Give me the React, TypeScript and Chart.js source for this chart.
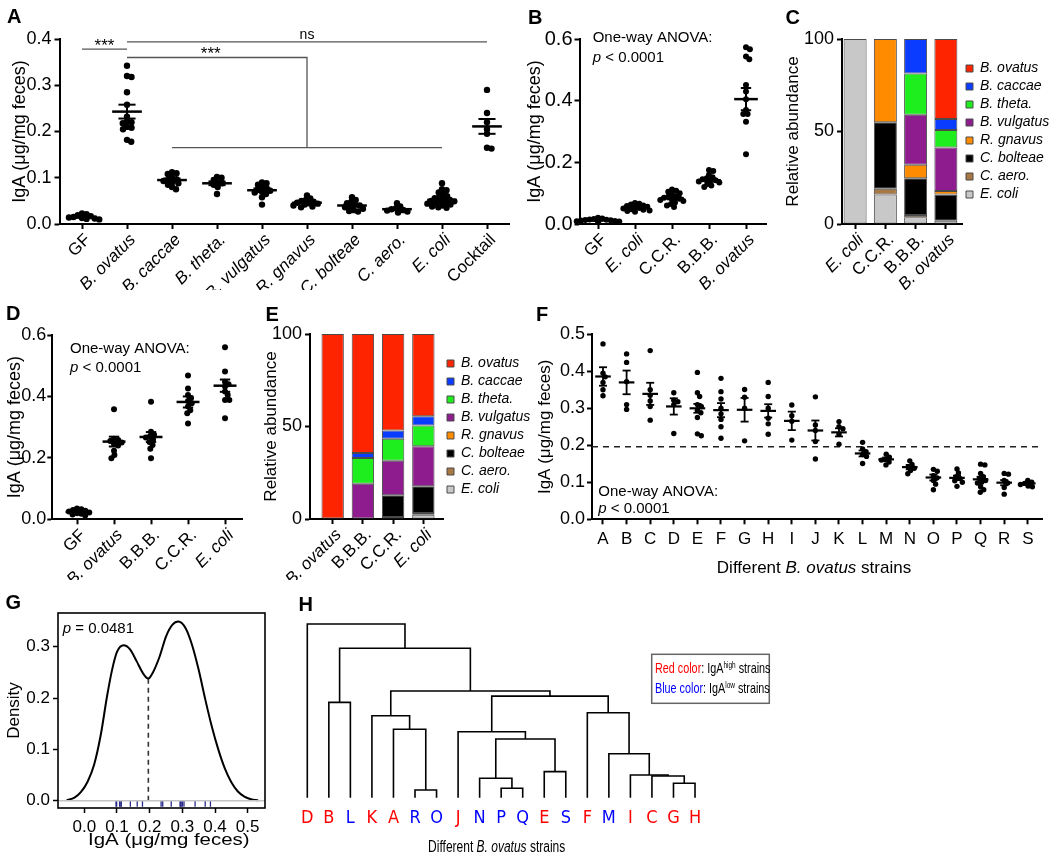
import React, { useEffect, useRef } from 'react';
import { Chart, registerables } from 'chart.js';

Chart.register(...registerables);

const FONT = '"Liberation Sans", Arial, Helvetica, sans-serif';
const NARROW = '"Liberation Sans Narrow", "DejaVu Sans Condensed", "Liberation Sans", Arial, sans-serif';
Chart.defaults.font.family = FONT;
Chart.defaults.color = '#000';

/* ================= Panel A ================= */
const aCategories = ['GF', 'B. ovatus', 'B. caccae', 'B. theta.', 'B. vulgatus', 'R. gnavus', 'C. bolteae', 'C. aero.', 'E. coli', 'Cocktail'];
const aItalic = [false, true, true, true, true, true, true, true, true, false];
const aGF = [0.023, 0.021, 0.019, 0.017, 0.015, 0.014, 0.013, 0.011, 0.01, 0.012];
const aBOvatus = [0.342, 0.32, 0.318, 0.285, 0.258, 0.232, 0.222, 0.22, 0.218, 0.21, 0.208, 0.205, 0.182, 0.178];
const aBCaccae = [0.112, 0.11, 0.108, 0.1, 0.097, 0.095, 0.093, 0.09, 0.088, 0.085, 0.08, 0.075];
const aBTheta = [0.102, 0.1, 0.095, 0.09, 0.088, 0.085, 0.08, 0.065];
const aBVulgatus = [0.09, 0.088, 0.085, 0.08, 0.078, 0.075, 0.072, 0.07, 0.068, 0.065, 0.058, 0.042];
const aRGnavus = [0.062, 0.055, 0.052, 0.05, 0.048, 0.046, 0.045, 0.044, 0.042, 0.04, 0.038, 0.036];
const aCBolteae = [0.058, 0.052, 0.048, 0.045, 0.042, 0.04, 0.038, 0.036, 0.033, 0.03, 0.028, 0.027];
const aCAero = [0.045, 0.038, 0.034, 0.032, 0.03, 0.029, 0.027, 0.025];
const aEColi = [0.088, 0.075, 0.073, 0.068, 0.064, 0.06, 0.058, 0.056, 0.054, 0.052, 0.05, 0.049, 0.048, 0.046, 0.045, 0.044, 0.042, 0.04, 0.038, 0.036, 0.035];
const aCocktail = [0.29, 0.24, 0.22, 0.205, 0.195, 0.165, 0.163];
const aMeans = [0.015, 0.243, 0.095, 0.088, 0.073, 0.046, 0.04, 0.032, 0.052, 0.211];
const aSems = [0.0015, 0.015, 0.0035, 0.004, 0.004, 0.002, 0.0025, 0.002, 0.003, 0.016];
const aBracketGF = [{ x: 0, y: 0.378 }, { x: 1, y: 0.378 }];
const aBracketNs = [{ x: 1, y: 0.394 }, { x: 9, y: 0.394 }];
const aBracketGroup = [{ x: 1, y: 0.36 }, { x: 5, y: 0.36 }, { x: 5, y: 0.165 }];
const aBracketBase = [{ x: 2, y: 0.165 }, { x: 8, y: 0.165 }];
const aBracketLabels = [
  { text: '***', x: 0.5, y: 0.378 },
  { text: 'ns', x: 5, y: 0.394 },
  { text: '***', x: 2.86, y: 0.36 },
];

/* ================= Panel B ================= */
const bCategories = ['GF', 'E. coli', 'C.C.R.', 'B.B.B.', 'B. ovatus'];
const bItalic = [false, true, false, false, true];
const bGF = [0.02, 0.018, 0.016, 0.015, 0.014, 0.013, 0.012, 0.011, 0.01, 0.009, 0.008, 0.006];
const bEColi = [0.068, 0.066, 0.063, 0.06, 0.058, 0.056, 0.054, 0.052, 0.05, 0.048, 0.046, 0.044, 0.042, 0.04];
const bCCR = [0.112, 0.108, 0.105, 0.1, 0.095, 0.09, 0.088, 0.085, 0.082, 0.08, 0.078, 0.075, 0.07, 0.065, 0.06, 0.055];
const bBBB = [0.175, 0.172, 0.16, 0.152, 0.148, 0.145, 0.142, 0.14, 0.138, 0.135, 0.13, 0.125, 0.12];
const bBOvatus = [0.573, 0.567, 0.543, 0.534, 0.451, 0.43, 0.405, 0.37, 0.357, 0.357, 0.332, 0.226];
const bMeans = [0.012, 0.053, 0.084, 0.142, 0.405];
const bSems = [0.0012, 0.002, 0.004, 0.004, 0.036];

/* ================= Panels C & E (stacked composition) ================= */
const stackSpecies = ['E. coli', 'C. aero.', 'C. bolteae', 'R. gnavus', 'B. vulgatus', 'B. theta.', 'B. caccae', 'B. ovatus'];
const stackColors = ['#C8C8C8', '#A87844', '#000000', '#FF8C00', '#8E1C8E', '#1EEE1E', '#0A3CFF', '#FF2400'];

const cCategories = ['E. coli', 'C.C.R.', 'B.B.B.', 'B. ovatus'];
const cItalic = [true, false, false, true];
const cEColi = [100, 16, 3.6, 1.8];
const cCAero = [0, 3, 1.3, 0];
const cCBolteae = [0, 36, 19.8, 14.2];
const cRGnavus = [0, 45, 7.3, 1.8];
const cBVulgatus = [0, 0, 27, 23.6];
const cBTheta = [0, 0, 22.4, 9.4];
const cBCaccae = [0, 0, 18.6, 6];
const cBOvatus = [0, 0, 0, 43.2];

const eCategories = ['B. ovatus', 'B.B.B.', 'C.C.R.', 'E. coli'];
const eItalic = [true, false, false, true];
const eEColi = [0, 0, 0, 2.3];
const eCAero = [0, 0, 1.1, 0.9];
const eCBolteae = [0, 0, 11.7, 14.5];
const eRGnavus = [0, 0, 0, 0];
const eBVulgatus = [0, 19.1, 18.7, 21.6];
const eBTheta = [0, 13.9, 11.9, 11.3];
const eBCaccae = [0, 2.7, 4.5, 4.9];
const eBOvatus = [100, 64.3, 52.1, 44.5];

/* ================= Panel D ================= */
const dCategories = ['GF', 'B. ovatus', 'B.B.B.', 'C.C.R.', 'E. coli'];
const dItalic = [false, true, false, false, true];
const dGF = [0.035, 0.033, 0.03, 0.028, 0.025, 0.022, 0.02, 0.018, 0.016, 0.012];
const dBOvatus = [0.358, 0.262, 0.258, 0.255, 0.25, 0.245, 0.24, 0.223, 0.209, 0.199];
const dBBB = [0.383, 0.285, 0.275, 0.27, 0.266, 0.26, 0.252, 0.242, 0.23, 0.199];
const dCCR = [0.468, 0.426, 0.405, 0.395, 0.385, 0.378, 0.367, 0.355, 0.345, 0.312];
const dEColi = [0.56, 0.481, 0.448, 0.44, 0.432, 0.416, 0.405, 0.388, 0.388, 0.329];
const dMeans = [0.024, 0.253, 0.268, 0.382, 0.435];
const dSems = [0.002, 0.016, 0.016, 0.018, 0.02];

/* ================= Panel F ================= */
const fStrains = ['A', 'B', 'C', 'D', 'E', 'F', 'G', 'H', 'I', 'J', 'K', 'L', 'M', 'N', 'O', 'P', 'Q', 'R', 'S'];
const fA = [0.474, 0.395, 0.385, 0.37, 0.35, 0.334];
const fB = [0.447, 0.424, 0.372, 0.31, 0.297];
const fC = [0.456, 0.35, 0.335, 0.32, 0.305, 0.268];
const fD = [0.342, 0.322, 0.318, 0.31, 0.232];
const fE = [0.397, 0.342, 0.332, 0.31, 0.305, 0.295, 0.288, 0.275, 0.231, 0.226];
const fF = [0.381, 0.345, 0.325, 0.3, 0.285, 0.27, 0.25, 0.219];
const fG = [0.351, 0.33, 0.3, 0.212];
const fH = [0.37, 0.332, 0.3, 0.273, 0.258, 0.23];
const fI = [0.309, 0.28, 0.265, 0.214];
const fJ = [0.331, 0.255, 0.24, 0.21, 0.163];
const fK = [0.264, 0.25, 0.245, 0.23, 0.203];
const fL = [0.208, 0.19, 0.183, 0.175, 0.17, 0.151];
const fM = [0.176, 0.168, 0.162, 0.16, 0.155, 0.147];
const fN = [0.158, 0.148, 0.142, 0.138, 0.132, 0.123];
const fO = [0.135, 0.13, 0.118, 0.112, 0.105, 0.095, 0.08];
const fP = [0.136, 0.125, 0.115, 0.11, 0.104, 0.1, 0.089];
const fQ = [0.149, 0.147, 0.124, 0.115, 0.11, 0.105, 0.1, 0.098, 0.088, 0.08, 0.073];
const fR = [0.124, 0.122, 0.105, 0.098, 0.086, 0.068];
const fS = [0.105, 0.1, 0.097, 0.094, 0.09, 0.088];
const fMeans = [0.386, 0.37, 0.339, 0.305, 0.3, 0.295, 0.296, 0.293, 0.266, 0.24, 0.235, 0.178, 0.162, 0.141, 0.113, 0.112, 0.108, 0.099, 0.097];
const fSems = [0.025, 0.032, 0.03, 0.022, 0.012, 0.019, 0.032, 0.018, 0.025, 0.027, 0.011, 0.008, 0.005, 0.006, 0.008, 0.006, 0.007, 0.007, 0.003];
const fThreshold = 0.196;

/* ================= Panel G ================= */
const gCurveX = [-0.054, -0.03, -0.01, 0.01, 0.03, 0.05, 0.07, 0.085, 0.1, 0.12, 0.14, 0.16, 0.18, 0.196, 0.21, 0.23, 0.25, 0.27, 0.288, 0.31, 0.33, 0.35, 0.37, 0.39, 0.41, 0.43, 0.45, 0.47, 0.49, 0.51, 0.532];
const gCurveY = [0.001, 0.006, 0.017, 0.037, 0.07, 0.127, 0.205, 0.255, 0.29, 0.303, 0.295, 0.272, 0.248, 0.238, 0.25, 0.28, 0.32, 0.343, 0.349, 0.336, 0.303, 0.255, 0.198, 0.145, 0.1, 0.063, 0.036, 0.018, 0.008, 0.003, 0.001];
const gRug = fMeans;
const gAntimode = 0.196;
const gAntimodeDensity = 0.238;
const gXTicks = [0, 0.1, 0.2, 0.3, 0.4, 0.5];
const gYTicks = [0, 0.1, 0.2, 0.3];
const gXMin = -0.0805;
const gXMax = 0.553;
const gYMin = -0.0142;
const gYMax = 0.3658;

/* ================= Panel H ================= */
const hLeaves = ['D', 'B', 'L', 'K', 'A', 'R', 'O', 'J', 'N', 'P', 'Q', 'E', 'S', 'F', 'M', 'I', 'C', 'G', 'H'];
const hHigh = [true, true, false, true, true, false, false, true, false, false, false, true, false, true, false, true, true, true, true];
const hMerges: [string, string, number][] = [
  ['R', 'O', 0.044], // m1
  ['P', 'Q', 0.054], // m2
  ['G', 'H', 0.083], // m3
  ['N', 'm2', 0.112], // m4
  ['C', 'm3', 0.125], // m5
  ['I', 'm5', 0.131], // m6
  ['E', 'S', 0.15], // m7
  ['M', 'm6', 0.253], // m8
  ['m4', 'm7', 0.338], // m9
  ['J', 'm9', 0.38], // m10
  ['A', 'm1', 0.394], // m11
  ['K', 'm11', 0.472], // m12
  ['F', 'm8', 0.489], // m13
  ['B', 'L', 0.549], // m14
  ['m10', 'm13', 0.585], // m15
  ['m12', 'm15', 0.614], // m16
  ['m14', 'm16', 0.86], // m17
  ['D', 'm17', 1.0], // m18
];

/* ================= helpers ================= */
type Box = { left: number; top: number; width: number; height: number };

function beeswarm(values: number[], center: number, pxPerX: number, pxPerY: number, diam: number) {
  const idx = values.map((_, i) => i).sort((a, b) => values[b] - values[a]);
  const placed: { x: number; y: number }[] = [];
  const out: { x: number; y: number }[] = new Array(values.length);
  idx.forEach((i) => {
    const y = values[i] * pxPerY;
    const cands = [0];
    placed.forEach((p) => {
      const dy = Math.abs(p.y - y);
      if (dy < diam) {
        const dx = Math.sqrt(diam * diam - dy * dy);
        cands.push(p.x + dx, p.x - dx);
      }
    });
    cands.sort((a, b) => Math.abs(a) - Math.abs(b));
    let best = 0;
    for (const c of cands) {
      if (placed.every((p) => (p.x - c) ** 2 + (p.y - y) ** 2 >= diam * diam - 0.01)) {
        best = c;
        break;
      }
    }
    placed.push({ x: best, y });
    out[i] = { x: center + best / pxPerX, y: values[i] };
  });
  return out;
}

type Part = { t: string; i?: boolean; color?: string; sup?: boolean };
function drawParts(ctx: any, parts: Part[], x: number, y: number, size: number, align = 'left', sx = 1) {
  ctx.save();
  ctx.textAlign = 'left';
  ctx.textBaseline = 'alphabetic';
  const fontOf = (p: Part) => `${p.i ? 'italic ' : ''}${p.sup ? Math.round(size * 0.62) : size}px ${FONT}`;
  let total = 0;
  parts.forEach((p) => {
    ctx.font = fontOf(p);
    total += ctx.measureText(p.t).width;
  });
  ctx.translate(x, y);
  ctx.scale(sx, 1);
  let cx = align === 'center' ? -total / 2 : 0;
  parts.forEach((p) => {
    ctx.font = fontOf(p);
    ctx.fillStyle = p.color || '#000';
    ctx.fillText(p.t, cx, p.sup ? -size * 0.38 : 0);
    cx += ctx.measureText(p.t).width;
  });
  ctx.restore();
}

function errorBars(means: number[], sems: number[], meanHalf: number, capHalf: number, meanW: number, barW: number) {
  return {
    id: 'errorBars',
    afterDatasetsDraw(chart: any) {
      const { ctx } = chart;
      const x = chart.scales.x;
      const y = chart.scales.y;
      ctx.save();
      ctx.strokeStyle = '#000';
      ctx.lineCap = 'butt';
      const seg = (x1: number, y1: number, x2: number, y2: number, w: number) => {
        ctx.lineWidth = w;
        ctx.beginPath();
        ctx.moveTo(x1, y1);
        ctx.lineTo(x2, y2);
        ctx.stroke();
      };
      means.forEach((m, i) => {
        const cx = x.getPixelForValue(i);
        const mh = x.getPixelForValue(i + meanHalf) - cx;
        const ch = x.getPixelForValue(i + capHalf) - cx;
        const ym = y.getPixelForValue(m);
        const yt = y.getPixelForValue(m + sems[i]);
        const yb = y.getPixelForValue(m - sems[i]);
        seg(cx, yt, cx, yb, barW);
        seg(cx - ch, yt, cx + ch, yt, barW);
        seg(cx - ch, yb, cx + ch, yb, barW);
        seg(cx - mh, ym, cx + mh, ym, meanW);
      });
      ctx.restore();
    },
  };
}

function yScale(o: any) {
  return {
    type: 'linear',
    min: o.min ?? 0,
    max: o.max,
    afterBuildTicks: (s: any) => {
      s.ticks = o.ticks.map((v: number) => ({ value: v }));
    },
    afterFit: (s: any) => {
      s.width = o.width;
    },
    border: { display: o.border !== false, color: '#000', width: 2 },
    grid: { display: true, drawOnChartArea: false, drawTicks: true, tickLength: 5, tickColor: '#000', tickWidth: o.tickWidth ?? 2 },
    ticks: { autoSkip: false, padding: o.pad ?? 3, color: '#000', font: { family: FONT, size: o.size }, callback: o.fmt },
    title: o.title
      ? { display: true, text: o.title, color: '#000', font: { family: FONT, size: o.titleSize }, padding: { top: o.titlePad, bottom: 0 } }
      : { display: false },
  };
}

function xScale(o: any) {
  const showGrid = o.grid !== false;
  return {
    type: 'linear',
    min: o.min,
    max: o.max,
    offset: false,
    afterBuildTicks: (s: any) => {
      s.ticks = o.ticks.map((v: number) => ({ value: v }));
    },
    afterFit: (s: any) => {
      s.height = o.height;
    },
    border: { display: o.border !== false, color: '#000', width: 2 },
    grid: { display: showGrid, offset: false, drawOnChartArea: false, drawTicks: showGrid, tickLength: 5, tickColor: '#000', tickWidth: o.tickWidth ?? 2 },
    ticks: {
      autoSkip: false,
      maxRotation: o.rot ?? 0,
      minRotation: o.rot ?? 0,
      labelOffset: o.labelOffset ?? 0,
      padding: o.pad ?? 3,
      color: o.color ?? '#000',
      font: o.font,
      callback: o.fmt,
    },
  };
}

function legendNaturalWidth() {
  const c = document.createElement('canvas').getContext('2d') as CanvasRenderingContext2D;
  c.font = `italic 14px ${FONT}`;
  const maxW = Math.max(...stackSpecies.map((s) => c.measureText(s).width));
  return 4 + 7 + 7 + maxW + 10 + 1;
}

function ChartCanvas({ box, build }: { box: Box; build: () => any }) {
  const ref = useRef<HTMLCanvasElement | null>(null);
  useEffect(() => {
    const chart = new Chart(ref.current as HTMLCanvasElement, build());
    return () => chart.destroy();
  }, []);
  return (
    <canvas
      ref={ref}
      width={box.width}
      height={box.height}
      style={{ position: 'absolute', left: box.left, top: box.top, width: box.width, height: box.height }}
    />
  );
}

function dotPlotConfig(s: any) {
  const areaR = s.area.l + (s.xMax - s.xMin) * s.spacing;
  const pxPerY = (s.area.b - s.area.t) / s.yMax;
  const pts: any[] = [];
  s.groups.forEach((g: number[], i: number) => pts.push(...beeswarm(g, i, s.spacing, pxPerY, s.dotR * 2 * s.pack)));
  return {
    type: 'scatter',
    data: {
      datasets: [
        { data: pts, pointRadius: s.dotR, pointBackgroundColor: '#000', backgroundColor: '#000', pointBorderWidth: 0, borderWidth: 0, clip: false },
        ...(s.extra || []),
      ],
    },
    options: {
      responsive: false,
      animation: false,
      events: [],
      layout: { autoPadding: false, padding: { left: 0, top: s.area.t - s.box.top, right: s.box.left + s.box.width - areaR, bottom: 0 } },
      plugins: { legend: { display: false }, tooltip: { enabled: false } },
      scales: {
        x: xScale({
          min: s.xMin,
          max: s.xMax,
          ticks: s.cats.map((_: string, i: number) => i),
          height: s.box.top + s.box.height - s.area.b,
          rot: s.rot,
          pad: s.xPad,
          labelOffset: s.rot ? 6 : 0,
          font: (c: any) => ({ family: FONT, size: s.catSize, style: s.italic && s.italic[c.index ?? 0] ? 'italic' : 'normal' }),
          fmt: (v: number) => s.cats[Math.round(v)],
        }),
        y: yScale({
          max: s.yMax,
          ticks: s.yTicks,
          width: s.area.l - s.box.left,
          size: s.yTickSize,
          title: 'IgA (μg/mg feces)',
          titleSize: s.titleSize,
          titlePad: s.titlePad,
          pad: s.yPad,
          fmt: (v: number) => Number(v).toFixed(1),
        }),
      },
    },
    plugins: [
      errorBars(s.means, s.sems, s.meanHalf, s.capHalf, s.meanW, s.barW),
      { id: 'notes', afterDraw: (chart: any) => s.notes && s.notes(chart) },
    ],
  };
}

function stackConfig(s: any) {
  const legendW = legendNaturalWidth();
  return {
    type: 'bar',
    data: {
      datasets: stackSpecies.map((label, k) => ({
        label,
        data: s.values[k].map((v: number, i: number) => ({ x: i, y: v > 0 ? v : null })),
        backgroundColor: stackColors[k],
        borderColor: '#4a4a4a',
        borderWidth: 1,
        borderSkipped: false,
        barPercentage: s.barPct,
        categoryPercentage: 1,
      })),
    },
    options: {
      responsive: false,
      animation: false,
      events: [],
      layout: {
        autoPadding: false,
        padding: { left: 0, top: s.area.t - s.box.top, right: s.box.left + s.box.width - s.area.r - legendW, bottom: 0 },
      },
      plugins: {
        legend: {
          display: true,
          position: 'right',
          align: 'center',
          fullSize: false,
          reverse: true,
          labels: { boxWidth: 7, boxHeight: 7, padding: 4, color: '#000', font: { family: FONT, size: 14, style: 'italic' } },
        },
        tooltip: { enabled: false },
      },
      scales: {
        x: {
          ...xScale({
            min: s.xMin,
            max: s.xMax,
            ticks: s.cats.map((_: string, i: number) => i),
            height: s.box.top + s.box.height - s.area.b,
            rot: 45,
            pad: 1,
            labelOffset: 6,
            font: (c: any) => ({ family: FONT, size: 17, style: s.italic[c.index ?? 0] ? 'italic' : 'normal' }),
            fmt: (v: number) => s.cats[Math.round(v)],
          }),
          stacked: true,
        },
        y: {
          ...yScale({
            max: 100,
            ticks: [0, 50, 100],
            width: s.area.l - s.box.left,
            size: 18,
            title: 'Relative abundance',
            titleSize: 17,
            titlePad: s.titleX - s.box.left - 10.2,
            pad: 3,
            fmt: (v: number) => String(v),
          }),
          stacked: true,
        },
      },
    },
  };
}

/* ================= panel builders ================= */
const aBox = { left: 0, top: 0, width: 520, height: 290 };
const bBox = { left: 505, top: 0, width: 275, height: 290 };
const cBox = { left: 600, top: 0, width: 500, height: 290 };
const dBox = { left: 0, top: 290, width: 260, height: 290 };
const eBox = { left: 100, top: 290, width: 450, height: 290 };
const fBox = { left: 520, top: 290, width: 530, height: 290 };
const gBox = { left: 0, top: 585, width: 290, height: 274 };
const hBox = { left: 290, top: 590, width: 760, height: 269 };

const bracketStyle = { showLine: true, borderColor: '#555', borderWidth: 1.3, pointRadius: 0, clip: false, tension: 0 };

function buildA() {
  return dotPlotConfig({
    box: aBox,
    area: { l: 59.5, t: 39, b: 224 },
    spacing: 45,
    xMin: -0.5,
    xMax: 9.5,
    yMax: 0.4,
    yTicks: [0, 0.1, 0.2, 0.3, 0.4],
    yTickSize: 18,
    yPad: 3,
    titleSize: 18,
    titlePad: 9.2,
    cats: aCategories,
    italic: aItalic,
    rot: 45,
    xPad: 1,
    catSize: 17,
    groups: [aGF, aBOvatus, aBCaccae, aBTheta, aBVulgatus, aRGnavus, aCBolteae, aCAero, aEColi, aCocktail],
    means: aMeans,
    sems: aSems,
    dotR: 3.2,
    pack: 0.72,
    meanHalf: 0.33,
    capHalf: 0.19,
    meanW: 2.5,
    barW: 2,
    extra: [
      { data: aBracketGF, ...bracketStyle },
      { data: aBracketNs, ...bracketStyle },
      { data: aBracketGroup, ...bracketStyle },
      { data: aBracketBase, ...bracketStyle },
    ],
    notes: (chart: any) => {
      const { ctx } = chart;
      const x = chart.scales.x;
      const y = chart.scales.y;
      ctx.save();
      ctx.fillStyle = '#000';
      ctx.textAlign = 'center';
      ctx.textBaseline = 'alphabetic';
      aBracketLabels.forEach((l) => {
        const stars = l.text === '***';
        ctx.font = `${stars ? 17 : 14}px ${FONT}`;
        ctx.fillText(l.text, x.getPixelForValue(l.x), y.getPixelForValue(l.y) + (stars ? 1.5 : -3));
      });
      ctx.restore();
    },
  });
}

function buildB() {
  return dotPlotConfig({
    box: bBox,
    area: { l: 579.5, t: 39, b: 224 },
    spacing: 37,
    xMin: -0.5,
    xMax: 4.55,
    yMax: 0.6,
    yTicks: [0, 0.2, 0.4, 0.6],
    yTickSize: 20,
    yPad: 2,
    titleSize: 18,
    titlePad: 19.2,
    cats: bCategories,
    italic: bItalic,
    rot: 45,
    xPad: 1,
    catSize: 17,
    groups: [bGF, bEColi, bCCR, bBBB, bBOvatus],
    means: bMeans,
    sems: bSems,
    dotR: 3,
    pack: 0.72,
    meanHalf: 0.32,
    capHalf: 0.14,
    meanW: 2.5,
    barW: 2,
    notes: (chart: any) => {
      const { ctx } = chart;
      drawParts(ctx, [{ t: 'One-way ANOVA:' }], 592.7 - bBox.left, 41.7 - bBox.top, 15);
      drawParts(ctx, [{ t: 'p', i: true }, { t: ' < 0.0001' }], 592.7 - bBox.left, 61.7 - bBox.top, 15);
    },
  });
}

function buildC() {
  return stackConfig({
    box: cBox,
    area: { l: 842, r: 961, t: 39, b: 224 },
    xMin: -0.433,
    xMax: 3.533,
    barPct: 0.76,
    titleX: 793,
    cats: cCategories,
    italic: cItalic,
    values: [cEColi, cCAero, cCBolteae, cRGnavus, cBVulgatus, cBTheta, cBCaccae, cBOvatus],
  });
}

function buildD() {
  return dotPlotConfig({
    box: dBox,
    area: { l: 52.3, t: 335, b: 519.3 },
    spacing: 37,
    xMin: -0.668,
    xMax: 4.486,
    yMax: 0.6,
    yTicks: [0, 0.2, 0.4, 0.6],
    yTickSize: 18,
    yPad: 1,
    titleSize: 18,
    titlePad: 4.2,
    cats: dCategories,
    italic: dItalic,
    rot: 45,
    xPad: 1,
    catSize: 17,
    groups: [dGF, dBOvatus, dBBB, dCCR, dEColi],
    means: dMeans,
    sems: dSems,
    dotR: 3,
    pack: 0.72,
    meanHalf: 0.31,
    capHalf: 0.14,
    meanW: 2.5,
    barW: 2,
    notes: (chart: any) => {
      const { ctx } = chart;
      drawParts(ctx, [{ t: 'One-way ANOVA:' }], 70 - dBox.left, 353.3 - dBox.top, 15);
      drawParts(ctx, [{ t: 'p', i: true }, { t: ' < 0.0001' }], 70 - dBox.left, 372.3 - dBox.top, 15);
    },
  });
}

function buildE() {
  return stackConfig({
    box: eBox,
    area: { l: 310, r: 442, t: 334, b: 519 },
    xMin: -0.75,
    xMax: 3.65,
    barPct: 0.74,
    titleX: 271,
    cats: eCategories,
    italic: eItalic,
    values: [eEColi, eCAero, eCBolteae, eRGnavus, eBVulgatus, eBTheta, eBCaccae, eBOvatus],
  });
}

function buildF() {
  const xMin = -0.466;
  const xMax = 18.64;
  return dotPlotConfig({
    box: fBox,
    area: { l: 592, t: 334.3, b: 519.3 },
    spacing: 23.6,
    xMin,
    xMax,
    yMax: 0.5,
    yTicks: [0, 0.1, 0.2, 0.3, 0.4, 0.5],
    yTickSize: 18,
    yPad: 2,
    titleSize: 17,
    titlePad: 14.8,
    cats: fStrains,
    italic: null,
    rot: 0,
    xPad: 4.5,
    catSize: 17,
    groups: [fA, fB, fC, fD, fE, fF, fG, fH, fI, fJ, fK, fL, fM, fN, fO, fP, fQ, fR, fS],
    means: fMeans,
    sems: fSems,
    dotR: 2.7,
    pack: 0.8,
    meanHalf: 0.33,
    capHalf: 0.17,
    meanW: 2.2,
    barW: 1.8,
    extra: [
      {
        data: [{ x: xMin, y: fThreshold }, { x: xMax, y: fThreshold }],
        showLine: true,
        borderColor: '#222',
        borderWidth: 1.6,
        borderDash: [6, 5],
        pointRadius: 0,
        clip: false,
      },
    ],
    notes: (chart: any) => {
      const { ctx } = chart;
      drawParts(ctx, [{ t: 'One-way ANOVA:' }], 598.3 - fBox.left, 495.7 - fBox.top, 15);
      drawParts(ctx, [{ t: 'p', i: true }, { t: ' < 0.0001' }], 598.3 - fBox.left, 512.7 - fBox.top, 15);
      drawParts(ctx, [{ t: 'Different ' }, { t: 'B. ovatus', i: true }, { t: ' strains' }], 814 - fBox.left, 573.3 - fBox.top, 17, 'center');
    },
  });
}

function buildG() {
  const area = { l: 58, r: 265, t: 613, b: 808 };
  return {
    type: 'scatter',
    data: {
      datasets: [
        { data: [{ x: gXMin, y: 0 }, { x: gXMax, y: 0 }], showLine: true, borderColor: '#c4c4c4', borderWidth: 1.5, pointRadius: 0, clip: false },
        {
          data: gCurveX.map((x, i) => ({ x, y: gCurveY[i] })),
          showLine: true,
          borderColor: '#000',
          borderWidth: 2,
          pointRadius: 0,
          cubicInterpolationMode: 'monotone',
          clip: false,
        },
        {
          data: [{ x: gAntimode, y: 0 }, { x: gAntimode, y: gAntimodeDensity }],
          showLine: true,
          borderColor: '#333',
          borderWidth: 1.6,
          borderDash: [5, 4],
          pointRadius: 0,
        },
        {
          data: gRug.map((x) => ({ x, y: -0.006 })),
          pointStyle: 'line',
          rotation: 90,
          pointRadius: 3,
          borderColor: '#2a2a8a',
          pointBorderColor: '#2a2a8a',
          borderWidth: 1.3,
          pointBorderWidth: 1.3,
          clip: false,
        },
      ],
    },
    options: {
      responsive: false,
      animation: false,
      events: [],
      layout: {
        autoPadding: false,
        padding: { left: 0, top: area.t - gBox.top, right: gBox.left + gBox.width - area.r, bottom: 0 },
      },
      plugins: { legend: { display: false }, tooltip: { enabled: false } },
      scales: {
        x: xScale({
          min: gXMin,
          max: gXMax,
          ticks: gXTicks,
          height: gBox.top + gBox.height - area.b,
          border: false,
          tickWidth: 1.5,
          pad: 4.5,
          font: { family: FONT, size: 17 },
          fmt: (v: number) => Number(v).toFixed(1),
        }),
        y: yScale({
          min: gYMin,
          max: gYMax,
          ticks: gYTicks,
          width: area.l - gBox.left,
          border: false,
          tickWidth: 1.5,
          size: 17,
          pad: 3,
          title: 'Density',
          titleSize: 17,
          titlePad: 3.8,
          fmt: (v: number) => Number(v).toFixed(1),
        }),
      },
    },
    plugins: [
      {
        id: 'frameNotes',
        afterDraw: (chart: any) => {
          const { ctx, chartArea: ca } = chart;
          ctx.save();
          ctx.strokeStyle = '#000';
          ctx.lineWidth = 1.6;
          ctx.strokeRect(ca.left, ca.top, ca.right - ca.left, ca.bottom - ca.top);
          ctx.restore();
          drawParts(ctx, [{ t: 'p', i: true }, { t: ' = 0.0481' }], 62.7 - gBox.left, 632.7 - gBox.top, 15);
          drawParts(ctx, [{ t: 'IgA (μg/mg feces)' }], 168.8 - gBox.left, 845 - gBox.top, 17, 'center', 1.2);
        },
      },
    ],
  };
}

function buildH() {
  const pos: Record<string, { x: number; h: number }> = {};
  hLeaves.forEach((n, i) => {
    pos[n] = { x: i, h: 0 };
  });
  const segs: { x: number; y: number }[][] = [];
  hMerges.forEach(([a, b, h], k) => {
    const A = pos[a];
    const B = pos[b];
    segs.push([
      { x: A.x, y: A.h },
      { x: A.x, y: h },
      { x: B.x, y: h },
      { x: B.x, y: B.h },
    ]);
    pos['m' + (k + 1)] = { x: (A.x + B.x) / 2, h };
  });
  const area = { l: 300, t: 624, b: 797.7 };
  const xMin = -0.339;
  const xMax = 18.5;
  const areaR = area.l + (xMax - xMin) * 21.54;
  return {
    type: 'scatter',
    data: {
      datasets: segs.map((s) => ({
        data: s,
        showLine: true,
        borderColor: '#000',
        borderWidth: 1.6,
        pointRadius: 0,
        tension: 0,
        clip: false,
      })),
    },
    options: {
      responsive: false,
      animation: false,
      events: [],
      layout: {
        autoPadding: false,
        padding: { left: area.l - hBox.left, top: area.t - hBox.top, right: hBox.left + hBox.width - areaR, bottom: 0 },
      },
      plugins: { legend: { display: false }, tooltip: { enabled: false } },
      scales: {
        x: xScale({
          min: xMin,
          max: xMax,
          ticks: hLeaves.map((_, i) => i),
          height: hBox.top + hBox.height - area.b,
          border: false,
          grid: false,
          pad: 9.5,
          font: { family: NARROW, size: 18 },
          color: (c: any) => (hHigh[c.index ?? 0] ? '#FF0000' : '#0000FF'),
          fmt: (v: number) => hLeaves[Math.round(v)],
        }),
        y: { type: 'linear', min: 0, max: 1, display: false },
      },
    },
    plugins: [
      {
        id: 'hNotes',
        afterDraw: (chart: any) => {
          const { ctx } = chart;
          const bx = 651.7 - hBox.left;
          const by = 654.3 - hBox.top;
          ctx.save();
          ctx.fillStyle = '#fff';
          ctx.fillRect(bx, by, 117.6, 49);
          ctx.strokeStyle = '#666';
          ctx.lineWidth = 1.5;
          ctx.strokeRect(bx, by, 117.6, 49);
          ctx.restore();
          drawParts(
            ctx,
            [{ t: 'Red color', color: '#FF0000' }, { t: ': IgA' }, { t: 'high', sup: true }, { t: ' strains' }],
            655 - hBox.left,
            673.3 - hBox.top,
            15,
            'left',
            0.72,
          );
          drawParts(
            ctx,
            [{ t: 'Blue color', color: '#0000FF' }, { t: ': IgA' }, { t: 'low', sup: true }, { t: ' strains' }],
            655 - hBox.left,
            693.3 - hBox.top,
            15,
            'left',
            0.72,
          );
          drawParts(ctx, [{ t: 'Different ' }, { t: 'B. ovatus', i: true }, { t: ' strains' }], 496.7 - hBox.left, 852.3 - hBox.top, 16, 'center', 0.75);
        },
      },
    ],
  };
}

const panelLetters = [
  { t: 'A', left: 7, top: 5.7 },
  { t: 'B', left: 528, top: 7.4 },
  { t: 'C', left: 785.5, top: 6.7 },
  { t: 'D', left: 6, top: 303.4 },
  { t: 'E', left: 265.5, top: 304.1 },
  { t: 'F', left: 536, top: 304.1 },
  { t: 'G', left: 5.5, top: 592.4 },
  { t: 'H', left: 298.5, top: 594.1 },
];

export default function App() {
  return (
    <div style={{ position: 'absolute', left: 0, top: 0, width: 1050, height: 859, background: '#fff', overflow: 'hidden' }}>
      <ChartCanvas box={aBox} build={buildA} />
      <ChartCanvas box={bBox} build={buildB} />
      <ChartCanvas box={cBox} build={buildC} />
      <ChartCanvas box={dBox} build={buildD} />
      <ChartCanvas box={eBox} build={buildE} />
      <ChartCanvas box={fBox} build={buildF} />
      <ChartCanvas box={gBox} build={buildG} />
      <ChartCanvas box={hBox} build={buildH} />
      {panelLetters.map((p) => (
        <div
          key={p.t}
          style={{
            position: 'absolute',
            left: p.left,
            top: p.top,
            font: `bold 20px ${FONT}`,
            lineHeight: '20px',
            color: '#000',
          }}
        >
          {p.t}
        </div>
      ))}
    </div>
  );
}
